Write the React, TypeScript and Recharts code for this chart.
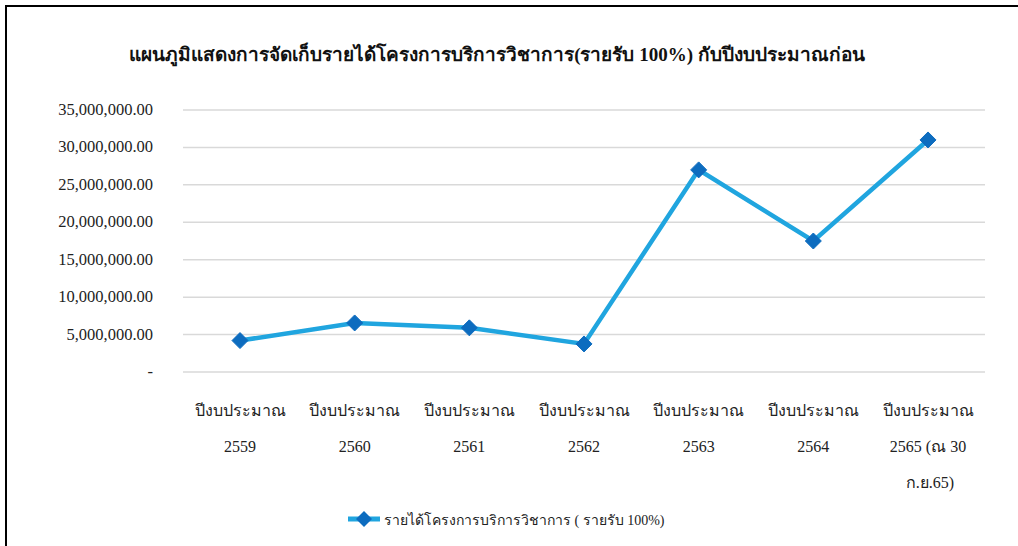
import { LineChart, Line, XAxis, YAxis, CartesianGrid } from "recharts"

const years = ["2559", "2560", "2561", "2562", "2563", "2564", "2565 (ณ 30|ก.ย.65)"]
const revenue = [4200000, 6550000, 5900000, 3750000, 27000000, 17500000, 31000000]
const yTicks = [0, 5000000, 10000000, 15000000, 20000000, 25000000, 30000000, 35000000]

const data = years.map((y, i) => ({ year: y, value: revenue[i] }))

const LINE = "#20a5df"
const MARK = "#0d6cbf"
const FONT = "'Liberation Serif', 'Times New Roman', serif"

function fmt(v: number) {
  if (v === 0) return "-"
  return v.toLocaleString("en-US", { minimumFractionDigits: 2, maximumFractionDigits: 2 })
}

function Diamond(props: any) {
  const { cx, cy } = props
  if (cx == null || cy == null) return null
  const r = 8
  return (
    <polygon
      points={`${cx},${cy - r} ${cx + r},${cy} ${cx},${cy + r} ${cx - r},${cy}`}
      fill={MARK}
      stroke={MARK}
      strokeWidth={1}
      strokeLinejoin="round"
    />
  )
}

function YTick(props: any) {
  const { y, payload } = props
  return (
    <text x={153} y={y} dy={5} textAnchor="end" fontSize={16.5} fontFamily={FONT} fill="#222">
      {fmt(payload.value)}
    </text>
  )
}

function XTick(props: any) {
  const { x, payload } = props
  const lines = ["ปีงบประมาณ", ...String(payload.value).split("|")]
  return (
    <text x={x} y={416} textAnchor="middle" fontSize={16} fontFamily={FONT} fill="#222">
      {lines.map((l, i) => (
        <tspan key={i} x={i === 2 ? x + 2 : x} dy={i === 0 ? 0 : 36}>
          {l}
        </tspan>
      ))}
    </text>
  )
}

export default function App() {
  return (
    <div style={{ position: "fixed", left: 0, top: 0, width: 1018, height: 546, background: "#fff", overflow: "hidden" }}>
      <div
        style={{
          position: "absolute",
          left: 5,
          top: 5,
          width: 1030,
          height: 560,
          borderTop: "2px solid #000",
          borderLeft: "2px solid #000",
        }}
      />
      <div
        style={{
          position: "absolute",
          left: 0,
          top: 39,
          width: 994,
          textAlign: "center",
          fontFamily: FONT,
          fontWeight: "bold",
          fontSize: 19,
          color: "#111",
        }}
      >
        แผนภูมิแสดงการจัดเก็บรายได้โครงการบริการวิชาการ(รายรับ 100%) กับปีงบประมาณก่อน
      </div>
      <div style={{ position: "absolute", left: 0, top: 0 }}>
        <LineChart width={1018} height={546} data={data} margin={{ top: 110, right: 33, bottom: 144, left: 0 }}>
          <CartesianGrid vertical={false} stroke="#d9d9d9" strokeWidth={1.5} />
          <XAxis
            dataKey="year"
            height={30}
            axisLine={false}
            tickLine={false}
            interval={0}
            padding={{ left: 57, right: 57 }}
            tick={<XTick />}
          />
          <YAxis
            width={183}
            domain={[0, 35000000]}
            ticks={yTicks}
            axisLine={false}
            tickLine={false}
            tick={<YTick />}
          />
          <Line
            dataKey="value"
            stroke={LINE}
            strokeWidth={4.5}
            dot={<Diamond />}
            activeDot={false}
            isAnimationActive={false}
          />
        </LineChart>
      </div>
      <div style={{ position: "absolute", left: 0, top: 507, width: 1018, height: 24, fontFamily: FONT, fontSize: 14, color: "#222" }}>
        <svg width={36} height={20} style={{ position: "absolute", left: 346, top: 2 }}>
          <line x1={2} y1={10} x2={34} y2={10} stroke={LINE} strokeWidth={5} />
          <polygon points="18,2 26,10 18,18 10,10" fill={MARK} />
        </svg>
        <span style={{ position: "absolute", left: 384, top: 2, whiteSpace: "nowrap" }}>
          รายได้โครงการบริการวิชาการ ( รายรับ 100%)
        </span>
      </div>
    </div>
  )
}
